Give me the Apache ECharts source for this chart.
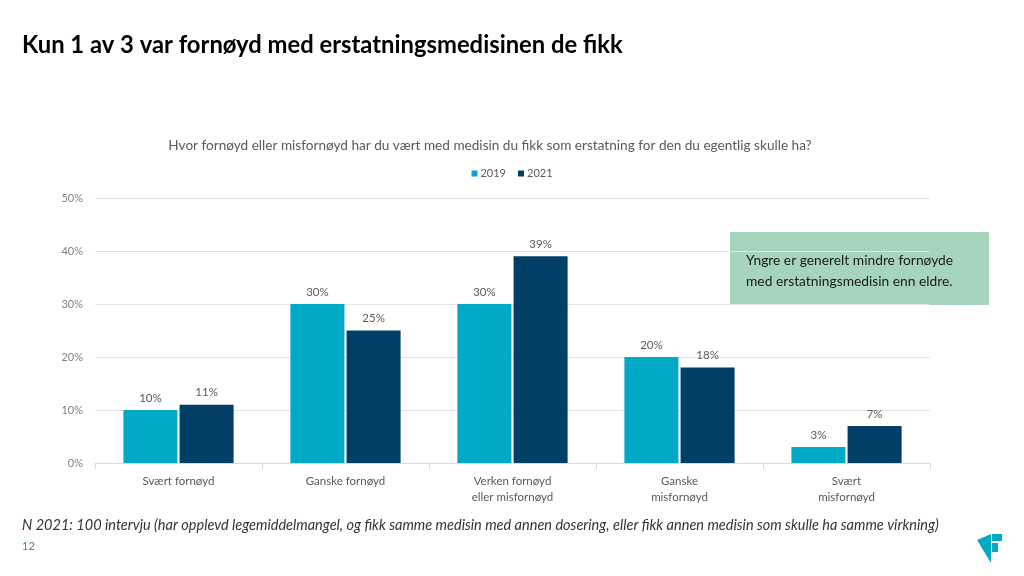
<!DOCTYPE html>
<html>
<head>
<meta charset="utf-8">
<script src="https://cdn.jsdelivr.net/npm/echarts@6/dist/echarts.min.js"></script>
<style>
html,body{margin:0;padding:0;background:#fff;}
#c{width:1024px;height:576px;}
</style>
</head>
<body>
<div id="c"></div>
<script>
const categories = ['Svært fornøyd', 'Ganske fornøyd', 'Verken fornøyd\neller misfornøyd', 'Ganske\nmisfornøyd', 'Svært\nmisfornøyd'];
const seriesNames = ['2019', '2021'];
const values2019 = [10, 30, 30, 20, 3];
const values2021 = [11, 25, 39, 18, 7];
const yTicks = [0, 10, 20, 30, 40, 50];

const title = 'Kun 1 av 3 var fornøyd med erstatningsmedisinen de fikk';
const subtitle = 'Hvor fornøyd eller misfornøyd har du vært med medisin du fikk som erstatning for den du egentlig skulle ha?';
const note = 'Yngre er generelt mindre fornøyde\nmed erstatningsmedisin enn eldre.';
const footnote = 'N 2021: 100 intervju (har opplevd legemiddelmangel, og fikk samme medisin med annen dosering, eller fikk annen medisin som skulle ha samme virkning)';
const pageNo = '12';

const colors = ['#00A9C5', '#023F66'];
const font = 'Lato, "Open Sans", sans-serif';

const chart = echarts.init(document.getElementById('c'), null, {renderer: 'canvas'});
const labelCfg = {show: true, position: 'top', distance: 6, formatter: p => p.value + '%', color: '#595959', fontSize: 11.5, fontFamily: font};

chart.setOption({
  animation: false,
  color: colors,
  title: [
    {text: title, left: 22, top: 33, padding: 0, textStyle: {fontFamily: font, fontWeight: 'bold', fontSize: 23.8, color: '#000'}},
    {text: subtitle, left: 490, textAlign: 'center', top: 139, padding: 0, textStyle: {fontFamily: font, fontWeight: 'normal', fontSize: 13.6, color: '#595959'}}
  ],
  legend: {
    data: seriesNames, top: 163, left: 'center', itemWidth: 6, itemHeight: 6, itemGap: 12, icon: 'rect',
    textStyle: {fontFamily: font, fontSize: 11, color: '#595959', padding: [0,0,0,-2]}
  },
  grid: {left: 95, right: 94, top: 198, bottom: 113, containLabel: false},
  xAxis: {
    type: 'category', data: categories,
    axisLine: {lineStyle: {color: '#D9D9D9'}},
    axisTick: {show: true, length: 6, lineStyle: {color: '#D9D9D9'}},
    axisLabel: {fontFamily: font, fontSize: 11.5, color: '#595959', lineHeight: 16, margin: 10}
  },
  yAxis: {
    type: 'value', min: 0, max: 50, interval: 10,
    axisLabel: {formatter: v => yTicks.includes(v) ? v + '%' : '', fontFamily: font, fontSize: 11, color: '#7F7F7F', margin: 12},
    axisLine: {show: false}, axisTick: {show: false},
    splitLine: {lineStyle: {color: '#E3E3E3'}}
  },
  series: [
    {name: seriesNames[0], type: 'bar', data: values2019, barGap: '4%', barCategoryGap: '34%', label: labelCfg},
    {name: seriesNames[1], type: 'bar', data: values2021, label: labelCfg}
  ],
  graphic: [
    {type: 'rect', shape: {x: 730, y: 232, width: 259, height: 73}, style: {fill: '#A7D5BB'}},
    {type: 'text', left: 746, top: 250, style: {text: note, font: '13.8px ' + font, fill: '#1a1a1a', lineHeight: 21}},
    {type: 'text', left: 22, top: 518, style: {text: footnote, font: 'italic 14.5px ' + font, fill: '#333'}},
    {type: 'text', left: 22, top: 541, style: {text: pageNo, font: '11px ' + font, fill: '#2E8F95'}},
    {type: 'polygon', shape: {points: [[977,540],[991,534],[991,563]]}, style: {fill: '#00A9C5'}},
    {type: 'rect', shape: {x: 992, y: 534, width: 10, height: 7}, style: {fill: '#00A9C5'}},
    {type: 'rect', shape: {x: 992, y: 543, width: 6, height: 9}, style: {fill: '#00A9C5'}}
  ]
});
</script>
</body>
</html>
